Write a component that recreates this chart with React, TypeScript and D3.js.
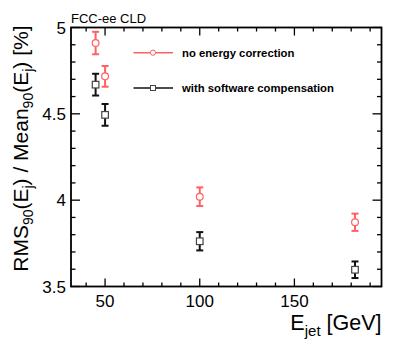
import { useEffect, useRef } from "react"
import * as d3 from "d3"

// jet energies [GeV]
const energies = [45, 50, 100, 182]
// RMS90/Mean90 [%] without correction
const noCorrVals = [4.91, 4.717, 4.02, 3.872]
const noCorrErrs = [0.065, 0.06, 0.054, 0.05]
// RMS90/Mean90 [%] with software compensation
const swCompVals = [4.669, 4.494, 3.762, 3.597]
const swCompErrs = [0.063, 0.063, 0.053, 0.048]

const xTicks = [50, 100, 150]
const yTicks = [3.5, 4, 4.5, 5]
const legendLabels = ["no energy correction", "with software compensation"]

const RED = "#ff6161"
const FONT = "'Liberation Sans', Arial, Helvetica, sans-serif"

export default function App() {
  const svgRef = useRef(null)

  useEffect(() => {
    document.body.style.margin = "0"
    const svg = d3.select(svgRef.current)
    svg.selectAll("*").remove()

    const left = 71
    const right = 381.5
    const top = 27.5
    const bottom = 286.5

    const x = d3.scaleLinear().domain([32, 196]).range([left, right])
    const y = d3.scaleLinear().domain([3.5, 5]).range([bottom, top])

    const g = svg.append("g")

    // minor + major ticks on all four sides
    const xMinor = d3.range(40, 196, 10)
    const yMinor = d3.range(3.5, 5.0001, 0.1)
    const tk = g.append("g").attr("stroke", "#000").attr("stroke-width", 1.3)
    xMinor.forEach((v) => {
      const len = v % 50 === 0 ? 8 : 4
      tk.append("line").attr("x1", x(v)).attr("x2", x(v)).attr("y1", bottom).attr("y2", bottom - len)
      tk.append("line").attr("x1", x(v)).attr("x2", x(v)).attr("y1", top).attr("y2", top + len)
    })
    yMinor.forEach((v) => {
      const major = Math.abs(v * 2 - Math.round(v * 2)) < 1e-6
      const len = major ? 9 : 4.5
      tk.append("line").attr("x1", left).attr("x2", left + len).attr("y1", y(v)).attr("y2", y(v))
      tk.append("line").attr("x1", right).attr("x2", right - len).attr("y1", y(v)).attr("y2", y(v))
    })

    // frame
    g.append("rect")
      .attr("x", left)
      .attr("y", top)
      .attr("width", right - left)
      .attr("height", bottom - top)
      .attr("fill", "none")
      .attr("stroke", "#000")
      .attr("stroke-width", 1.8)

    // tick labels
    g.selectAll(".xl")
      .data(xTicks)
      .enter()
      .append("text")
      .attr("x", (d) => x(d))
      .attr("y", 307)
      .attr("text-anchor", "middle")
      .attr("font-family", FONT)
      .attr("font-size", 17)
      .text((d) => d)

    g.selectAll(".yl")
      .data(yTicks)
      .enter()
      .append("text")
      .attr("x", 66)
      .attr("y", (d) => y(d) + 6)
      .attr("text-anchor", "end")
      .attr("font-family", FONT)
      .attr("font-size", 17)
      .text((d) => d)

    // axis titles
    const xt = g.append("text")
      .attr("x", right)
      .attr("y", 330)
      .attr("text-anchor", "end")
      .attr("font-family", FONT)
      .attr("font-size", 21.5)
    xt.append("tspan").text("E")
    xt.append("tspan").attr("font-size", 15).attr("dy", 6).text("jet")
    xt.append("tspan").attr("dy", -6).text(" [GeV]")

    const yt = g.append("text")
      .attr("transform", `translate(28,${top - 2}) rotate(-90)`)
      .attr("text-anchor", "end")
      .attr("font-family", FONT)
      .attr("font-size", 21)
    yt.append("tspan").text("RMS")
    yt.append("tspan").attr("font-size", 14).attr("dy", 5).text("90")
    yt.append("tspan").attr("dy", -5).text("(E")
    yt.append("tspan").attr("font-size", 14).attr("dy", 5).text("j")
    yt.append("tspan").attr("dy", -5).text(") / Mean")
    yt.append("tspan").attr("font-size", 14).attr("dy", 5).text("90")
    yt.append("tspan").attr("dy", -5).text("(E")
    yt.append("tspan").attr("font-size", 14).attr("dy", 5).text("j")
    yt.append("tspan").attr("dy", -5).text(") [%]")

    g.append("text")
      .attr("x", left)
      .attr("y", 23)
      .attr("font-family", FONT)
      .attr("font-size", 13)
      .text("FCC-ee CLD")

    // error bars + markers
    const drawSeries = (vals, errs, color, marker) => {
      const s = g.append("g")
      vals.forEach((v, i) => {
        const cx = x(energies[i])
        const cy = y(v)
        const y1 = y(v + errs[i])
        const y2 = y(v - errs[i])
        const e = s.append("g").attr("stroke", color).attr("stroke-width", 2)
        e.append("line").attr("x1", cx).attr("x2", cx).attr("y1", y1).attr("y2", y2)
        e.append("line").attr("x1", cx - 3.5).attr("x2", cx + 3.5).attr("y1", y1).attr("y2", y1)
        e.append("line").attr("x1", cx - 3.5).attr("x2", cx + 3.5).attr("y1", y2).attr("y2", y2)
        if (marker === "circle") {
          s.append("circle").attr("cx", cx).attr("cy", cy).attr("r", 3.4)
            .attr("fill", "#fff").attr("stroke", color).attr("stroke-width", 1.2)
        } else {
          s.append("rect").attr("x", cx - 3.3).attr("y", cy - 3.3).attr("width", 6.6).attr("height", 6.6)
            .attr("fill", "#fff").attr("stroke", "#444").attr("stroke-width", 1.2)
        }
      })
    }
    drawSeries(noCorrVals, noCorrErrs, RED, "circle")
    drawSeries(swCompVals, swCompErrs, "#111", "square")

    // legend
    const legY = [52.7, 88]
    const legColors = [RED, "#111"]
    legendLabels.forEach((lab, i) => {
      const ly = legY[i]
      g.append("line").attr("x1", 133.5).attr("x2", 173).attr("y1", ly).attr("y2", ly)
        .attr("stroke", legColors[i]).attr("stroke-width", 1.5)
      if (i === 0) {
        g.append("circle").attr("cx", 153).attr("cy", ly).attr("r", 2.6)
          .attr("fill", "#fff").attr("stroke", RED).attr("stroke-width", 1)
      } else {
        g.append("rect").attr("x", 150.5).attr("y", ly - 2.5).attr("width", 5).attr("height", 5)
          .attr("fill", "#fff").attr("stroke", "#444").attr("stroke-width", 1)
      }
      g.append("text")
        .attr("x", 182)
        .attr("y", ly + 4)
        .attr("font-family", FONT)
        .attr("font-size", 11.3)
        .attr("font-weight", "bold")
        .text(lab)
    })
  }, [])

  return (
    <div style={{ position: "absolute", left: 0, top: 0 }}>
      <svg ref={svgRef} width={415} height={351} style={{ display: "block", background: "#fff" }} />
    </div>
  )
}
